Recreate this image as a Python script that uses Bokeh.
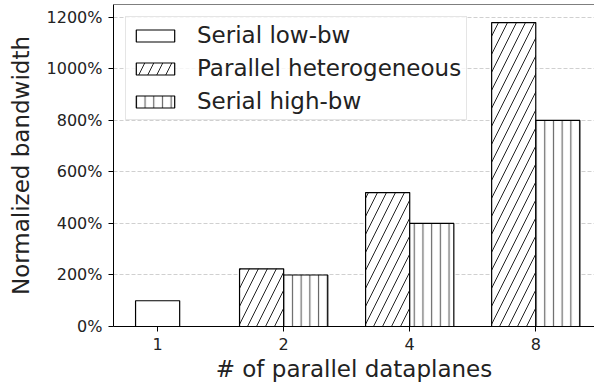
from bokeh.plotting import figure
from bokeh.models import (ColumnDataSource, Range1d, FixedTicker, PrintfTickFormatter,
                          Legend, LegendItem, Span)
from bokeh.transform import dodge
from bokeh.embed import file_html
from bokeh.resources import INLINE

# Number of parallel dataplanes (category labels) and their positions
planes = ["1", "2", "4", "8"]
positions = [0, 1, 2, 3]

# Normalized bandwidth in percent
serial_low_bw = [100]              # only the single-dataplane baseline
parallel_hetero = [224, 520, 1180]  # for 2, 4, 8 dataplanes
serial_high_bw = [200, 400, 800]    # for 2, 4, 8 dataplanes

y_ticks = [0, 200, 400, 600, 800, 1000, 1200]

FONT = "DejaVu Sans"
BAR_W = 0.35

src_low = ColumnDataSource(dict(x=positions[:1], top=serial_low_bw))
src_par = ColumnDataSource(dict(x=positions[1:], top=parallel_hetero))
src_high = ColumnDataSource(dict(x=positions[1:], top=serial_high_bw))

p = figure(width=594, height=385, output_backend="svg", toolbar_location=None,
           x_range=Range1d(-0.35, 3.466), y_range=Range1d(0, 1250),
           min_border_left=113, min_border_right=0, min_border_top=4,
           min_border_bottom=59)
p.outline_line_color = None

r_low = p.vbar(x="x", top="top", width=BAR_W, source=src_low,
               fill_color="white", line_color="black", line_width=1.2)
r_par = p.vbar(x=dodge("x", -BAR_W / 2, range=p.x_range), top="top", width=BAR_W,
               source=src_par, fill_color="white", line_color="black", line_width=1.2,
               hatch_pattern="/", hatch_color="#222222", hatch_weight=1, hatch_scale=18)
r_high = p.vbar(x=dodge("x", BAR_W / 2, range=p.x_range), top="top", width=BAR_W,
                source=src_high, fill_color="white", line_color="black", line_width=1.2,
                hatch_pattern="|", hatch_color="#666666", hatch_weight=1.2, hatch_scale=8.7)

# top spine
p.add_layout(Span(location=1250, dimension="width", line_color="black", line_width=1))

# axes
p.xaxis.ticker = FixedTicker(ticks=positions)
p.xaxis.major_label_overrides = {i: s for i, s in zip(positions, planes)}
p.yaxis.ticker = FixedTicker(ticks=y_ticks)
p.yaxis.formatter = PrintfTickFormatter(format="%d%%")

for ax in (p.xaxis[0], p.yaxis[0]):
    ax.axis_line_color = "black"
    ax.axis_line_width = 1
    ax.major_tick_line_color = "black"
    ax.major_tick_in = 0
    ax.major_tick_out = 5
    ax.minor_tick_line_color = None
    ax.major_label_text_font = FONT
    ax.major_label_text_font_size = "16px"
    ax.major_label_text_color = "#222222"
    ax.major_label_standoff = 6
    ax.axis_label_text_font = FONT
    ax.axis_label_text_font_size = "23px"
    ax.axis_label_text_font_style = "normal"
    ax.axis_label_text_color = "#222222"

p.xaxis.axis_label = "# of parallel dataplanes"
p.xaxis.axis_label_standoff = 3
p.yaxis.axis_label = "Normalized bandwidth"
p.yaxis.axis_label_standoff = 10

# grid
p.xgrid.grid_line_color = None
p.ygrid.grid_line_color = "#b0b0b0"
p.ygrid.grid_line_alpha = 0.6
p.ygrid.grid_line_dash = "4 2"
p.ygrid.grid_line_width = 1

legend = Legend(items=[
    LegendItem(label="Serial low-bw", renderers=[r_low]),
    LegendItem(label="Parallel heterogeneous", renderers=[r_par]),
    LegendItem(label="Serial high-bw", renderers=[r_high]),
], location="top_left")
legend.margin = 12
legend.padding = 5
legend.spacing = 7
legend.glyph_width = 48
legend.glyph_height = 15
legend.label_standoff = 18
legend.label_text_font = FONT
legend.label_text_font_size = "23px"
legend.label_text_color = "#222222"
legend.border_line_color = "#cccccc"
legend.border_line_width = 1
legend.background_fill_alpha = 0.8
p.add_layout(legend, "center")

open("out.html", "w").write(file_html(p, INLINE))
